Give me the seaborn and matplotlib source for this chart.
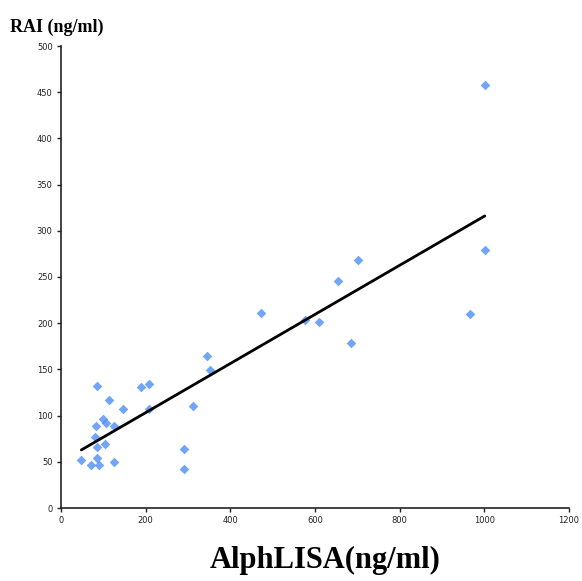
import matplotlib
matplotlib.use("Agg")
from matplotlib import pyplot as plt
import seaborn as sns
import pandas as pd

# values
alphalisa = [48, 71, 90, 86, 86, 81, 83, 105, 100, 106, 125, 125, 113, 84, 146, 189,
             209, 207, 291, 291, 311, 345, 351, 472, 576, 609, 654, 684, 701, 966, 1001, 1001]
rai = [52, 47, 47, 54, 66, 77, 89, 69, 96, 92, 89, 50, 117, 132, 107, 131,
       134, 107, 64, 42, 110, 164, 149, 211, 204, 201, 246, 179, 268, 210, 279, 458]
x_ticks = [0, 200, 400, 600, 800, 1000, 1200]
y_ticks = [0, 50, 100, 150, 200, 250, 300, 350, 400, 450, 500]

df = pd.DataFrame({'AlphLISA': alphalisa, 'RAI': rai})

sns.set_style('ticks')
fig = plt.figure(figsize=(5.82, 5.81), dpi=100)
ax = fig.add_axes([61 / 582, 1 - 508 / 581, 508 / 582, 462 / 581])

sns.regplot(data=df, x='AlphLISA', y='RAI', ax=ax, ci=None, marker='D',
            scatter_kws={'s': 24, 'color': '#4F8DF5', 'linewidths': 0},
            line_kws={'color': 'black', 'linewidth': 2})

ax.set_xlim(0, 1200)
ax.set_ylim(0, 500)
ax.set_xticks(x_ticks)
ax.set_yticks(y_ticks)
ax.tick_params(labelsize=6, colors='#222222', length=3, width=1, pad=3)
ax.set_xlabel('')
ax.set_ylabel('')
sns.despine(ax=ax)
for s in ['left', 'bottom']:
    ax.spines[s].set_color('#222222')
    ax.spines[s].set_linewidth(1.2)

fig.text(10 / 582, 1 - 27 / 581, 'RAI (ng/ml)', family='Liberation Serif',
         fontweight='bold', fontsize=13, va='center', ha='left', color='black')
fig.text(325 / 582, 1 - 560 / 581, 'AlphLISA(ng/ml)', family='Liberation Serif',
         fontweight='bold', fontsize=22, va='center', ha='center', color='black')

plt.savefig('out.png', dpi=100)
plt.close()
